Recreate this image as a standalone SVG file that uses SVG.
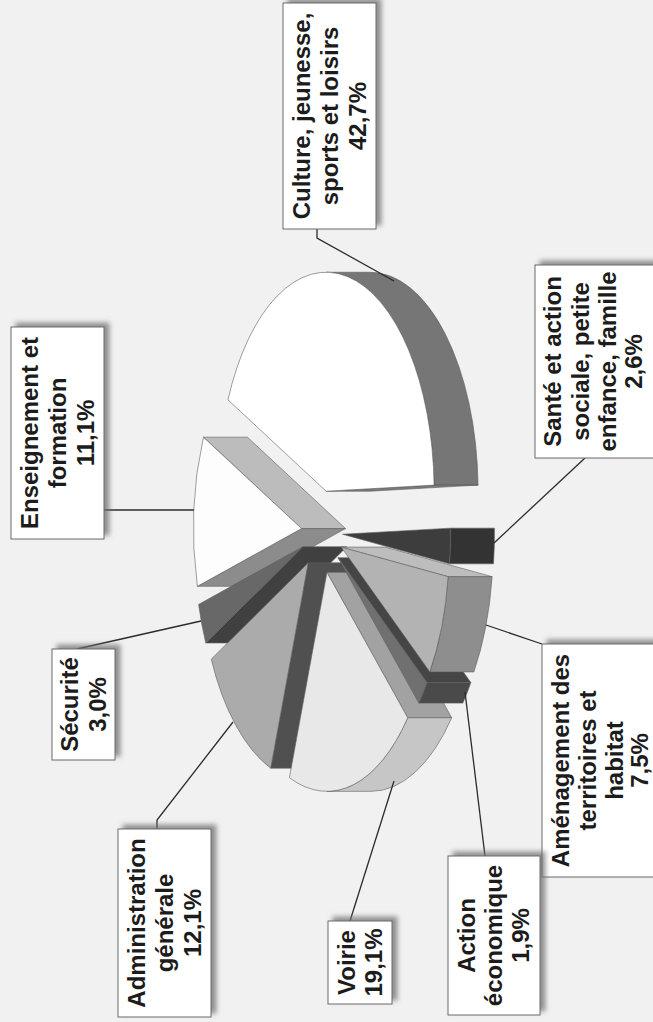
<svg xmlns="http://www.w3.org/2000/svg" width="653" height="1022" viewBox="0 0 653 1022">
<defs>
<filter id="sh" x="-20%" y="-20%" width="140%" height="140%">
<feDropShadow dx="5" dy="-4" stdDeviation="2.5" flood-color="#707070" flood-opacity="0.75"/>
</filter>
<style>
.box{fill:#fff;stroke:#6a6a6a;stroke-width:1;filter:url(#sh)}
.lbl{font-family:"Liberation Sans",Arial,sans-serif;font-weight:bold;font-size:24px;fill:#1c1c1c;text-anchor:middle}
.f{stroke:#5e5e5e;stroke-width:0.6;stroke-linejoin:round}
.conn{fill:none;stroke:#2c2c2c;stroke-width:1.3}
</style>
</defs>
<rect width="653" height="1022" fill="#f1f1f1"/>

<g id="pie">
<g id="slice-enseignement">
<path class="f" fill="#bcbcbc" d="M301.55,528.59 L203.41,437.16 L247.41,437.16 L345.55,528.59 Z"/>
<path class="f" fill="#8c8c8c" d="M301.55,528.59 L197.36,586.32 L241.36,586.32 L345.55,528.59 Z"/>
<path class="f" fill="#fdfdfd" d="M301.55,528.59 L197.36,586.32 A108,219 0 0,1 203.41,437.16 Z"/>
</g>
<g id="slice-securite">
<path class="f" fill="#404040" d="M302.80,546.69 L205.79,642.98 L249.79,642.98 L346.80,546.69 Z"/>
<path class="f" fill="#686868" d="M302.80,546.69 L205.79,642.98 A108,219 0 0,1 198.61,604.42 Z"/>
</g>
<g id="slice-administration">
<path class="f" fill="#505050" d="M308.23,562.85 L270.66,768.16 L314.66,768.16 L352.23,562.85 Z"/>
<path class="f" fill="#ababab" d="M308.23,562.85 L270.66,768.16 A108,219 0 0,1 211.22,659.14 Z"/>
</g>
<g id="slice-culture">
<path class="f" fill="#767676" d="M326.11,272.23 A108,219 0 0,1 434.07,485.12 L478.07,485.12 A108,219 0 0,0 370.11,272.23 Z"/>
<path class="f" fill="#7a7a7a" d="M326.11,491.23 L434.07,485.12 L478.07,485.12 L370.11,491.23 Z"/>
<path class="f" fill="#ffffff" d="M326.11,491.23 L227.97,399.80 A108,219 0 0,1 434.07,485.12 Z"/>
</g>
<g id="slice-voirie">
<path class="f" fill="#a2a2a2" d="M326.97,572.37 L407.73,717.76 L451.73,717.76 L370.97,572.37 Z"/>
<path class="f" fill="#c6c6c6" d="M407.73,717.76 A108,219 0 0,1 326.97,791.37 L370.97,791.37 A108,219 0 0,0 451.73,717.76 Z"/>
<path class="f" fill="#e8e8e8" d="M326.97,572.37 L407.73,717.76 A108,219 0 0,1 289.40,777.68 Z"/>
</g>
<g id="slice-action">
<path class="f" fill="#454545" d="M338.13,557.72 L426.86,682.57 L470.86,682.57 L382.13,557.72 Z"/>
<path class="f" fill="#4a4a4a" d="M426.86,682.57 A108,219 0 0,1 418.89,703.11 L462.89,703.11 A108,219 0 0,0 470.86,682.57 Z"/>
<path class="f" fill="#707070" d="M338.13,557.72 L426.86,682.57 A108,219 0 0,1 418.89,703.11 Z"/>
</g>
<g id="slice-amenagement">
<path class="f" fill="#bdbdbd" d="M341.12,547.09 L448.13,576.66 L492.13,576.66 L385.12,547.09 Z"/>
<path class="f" fill="#8e8e8e" d="M448.13,576.66 A108,219 0 0,1 429.85,671.94 L473.85,671.94 A108,219 0 0,0 492.13,576.66 Z"/>
<path class="f" fill="#b3b3b3" d="M341.12,547.09 L448.13,576.66 A108,219 0 0,1 429.85,671.94 Z"/>
</g>
<g id="slice-sante">
<path class="f" fill="#333333" d="M450.45,528.13 A108,219 0 0,1 449.50,563.81 L493.50,563.81 A108,219 0 0,0 494.45,528.13 Z"/>
<path class="f" fill="#3d3d3d" d="M342.49,534.24 L450.45,528.13 A108,219 0 0,1 449.50,563.81 Z"/>
</g>
</g>

<g id="connectors">
<polyline class="conn" points="317,229 317,238 394,281"/>
<polyline class="conn" points="104,510 194,510"/>
<polyline class="conn" points="585,458 494,543"/>
<polyline class="conn" points="542,644 486,625"/>
<polyline class="conn" points="485,856 465,692"/>
<polyline class="conn" points="350,921 394,781"/>
<polyline class="conn" points="157,829 157,820 233,722"/>
<polyline class="conn" points="77,649 201,621"/>
</g>

<g id="label-culture">
<rect class="box" x="283" y="3" width="93" height="226"/>
<text class="lbl" transform="translate(0,116) rotate(-90)"><tspan x="0" y="310">Culture, jeunesse,</tspan><tspan x="0" y="338">sports et loisirs</tspan><tspan x="0" y="366">42,7%</tspan></text>
</g>
<g id="label-enseignement">
<rect class="box" x="11" y="327" width="93" height="212"/>
<text class="lbl" transform="translate(0,433) rotate(-90)"><tspan x="0" y="38">Enseignement et</tspan><tspan x="0" y="66">formation</tspan><tspan x="0" y="94">11,1%</tspan></text>
</g>
<g id="label-sante">
<rect class="box" x="535" y="265" width="122" height="193"/>
<text class="lbl" transform="translate(0,361.5) rotate(-90)"><tspan x="0" y="561">Santé et action</tspan><tspan x="0" y="589">sociale, petite</tspan><tspan x="0" y="616">enfance, famille</tspan><tspan x="0" y="642">2,6%</tspan></text>
</g>
<g id="label-amenagement">
<rect class="box" x="542" y="644" width="125" height="233"/>
<text class="lbl" transform="translate(0,760.5) rotate(-90)"><tspan x="0" y="569">Aménagement des</tspan><tspan x="0" y="596">territoires et</tspan><tspan x="0" y="623">habitat</tspan><tspan x="0" y="648">7,5%</tspan></text>
</g>
<g id="label-action">
<rect class="box" x="448" y="856" width="92" height="159"/>
<text class="lbl" transform="translate(0,935.5) rotate(-90)"><tspan x="0" y="475">Action</tspan><tspan x="0" y="502">économique</tspan><tspan x="0" y="529">1,9%</tspan></text>
</g>
<g id="label-voirie">
<rect class="box" x="328" y="921" width="64" height="83"/>
<text class="lbl" transform="translate(0,962.5) rotate(-90)"><tspan x="0" y="355">Voirie</tspan><tspan x="0" y="382">19,1%</tspan></text>
</g>
<g id="label-administration">
<rect class="box" x="118" y="829" width="93" height="188"/>
<text class="lbl" transform="translate(0,923) rotate(-90)"><tspan x="0" y="145">Administration</tspan><tspan x="0" y="173">générale</tspan><tspan x="0" y="201">12,1%</tspan></text>
</g>
<g id="label-securite">
<rect class="box" x="52" y="649" width="63" height="111"/>
<text class="lbl" transform="translate(0,704.5) rotate(-90)"><tspan x="0" y="78">Sécurité</tspan><tspan x="0" y="106">3,0%</tspan></text>
</g>
</svg>
